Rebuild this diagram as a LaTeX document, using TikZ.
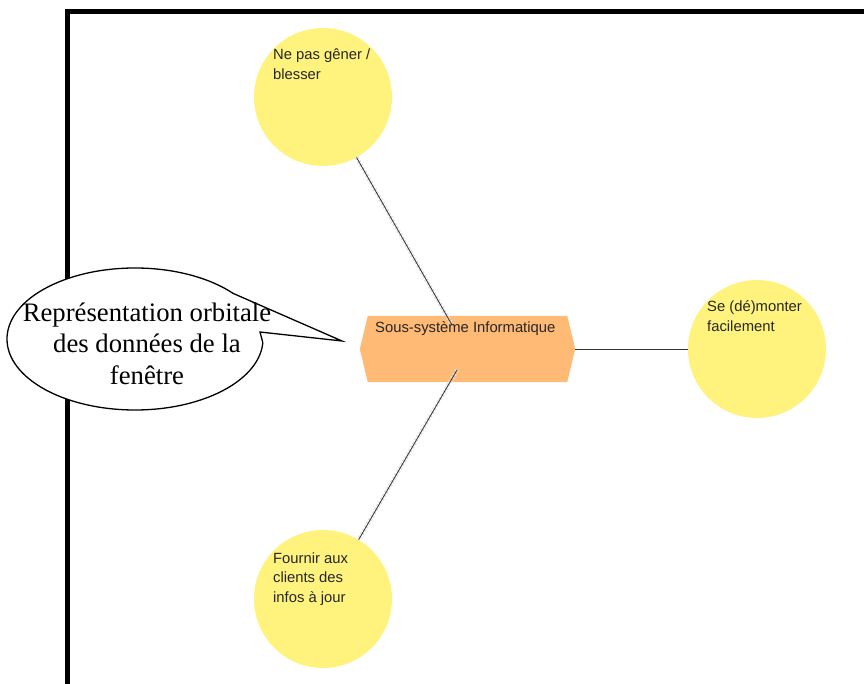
\documentclass[tikz,border=0pt]{standalone}
\usepackage{fontspec}
\setmainfont{Liberation Serif}
\newfontfamily\uifont{Liberation Sans}
\usetikzlibrary{calc}
\definecolor{bulle}{RGB}{255,243,125}
\definecolor{hexo}{RGB}{255,186,117}
\begin{document}
\begin{tikzpicture}[x=1pt,y=-1pt,
  goal/.style={circle, fill=bulle, minimum size=138pt, inner sep=0pt},
  lbl/.style={anchor=base west, inner sep=0pt, text=black!85,
    font=\uifont\fontsize{14.8}{19.5}\selectfont},
  link/.style={draw=black!80, line width=0.8pt},
  halo/.style={draw=black!12, line width=4pt, dash pattern=on 2pt off 2pt},
  frame/.style={draw=black, line width=5pt}]
\useasboundingbox (0,0) rectangle (864,684);
% page frame
\coordinate (fTL) at (67.5,11.5);
\coordinate (fTR) at (864,11.5);
\coordinate (fBL) at (67.5,684);
\draw[frame] (fBL) -- (fTL) -- (fTR);
% callout
\filldraw[fill=white, draw=black, line width=1.3pt]
  (233.05,293.36) arc[start angle=40, end angle=357, x radius=128pt, y radius=71pt]
  -- (260,332) -- (342,341) -- cycle;
\node[anchor=base, inner sep=0pt, font=\fontsize{26.7}{31.5}\selectfont] (callout) at (147,321)
  {\begin{tabular}[t]{@{}c@{}}Représentation orbitale\\ des données de la\\ fenêtre\end{tabular}};
% goals
\node[goal] (c1) at (323,97) {};
\node[goal] (c2) at (757,349) {};
\node[goal] (c3) at (323,599) {};
% hexagon
\node[minimum width=215pt, minimum height=66pt, inner sep=0pt] (h) at (467.5,349) {};
\fill[hexo] ($(h.north west)+(8,0)$) -- ($(h.north east)+(-8,0)$) -- (h.east)
  -- ($(h.south east)+(-8,0)$) -- ($(h.south west)+(8,0)$) -- (h.west) -- cycle;
% connectors
\coordinate (hT) at (452,325);
\coordinate (hB) at (457,370);
\draw[halo] (c1.-61) -- (hT);
\draw[halo] (hB) -- (c3.59);
\draw[link] (c1.-61) -- (hT);
\draw[link] (hB) -- (c3.59);
\draw[link] (h.east) -- (c2.west);
% texts
\node[lbl] (ht) at (375,333) {Sous-système Informatique};
\node[lbl] (t1) at (273,60) {\begin{tabular}[t]{@{}l@{}}Ne pas gêner /\\ blesser\end{tabular}};
\node[lbl] (t2) at (707,312) {\begin{tabular}[t]{@{}l@{}}Se (dé)monter\\ facilement\end{tabular}};
\node[lbl] (t3) at (273,563) {\begin{tabular}[t]{@{}l@{}}Fournir aux\\ clients des\\ infos à jour\end{tabular}};
\end{tikzpicture}
\end{document}
